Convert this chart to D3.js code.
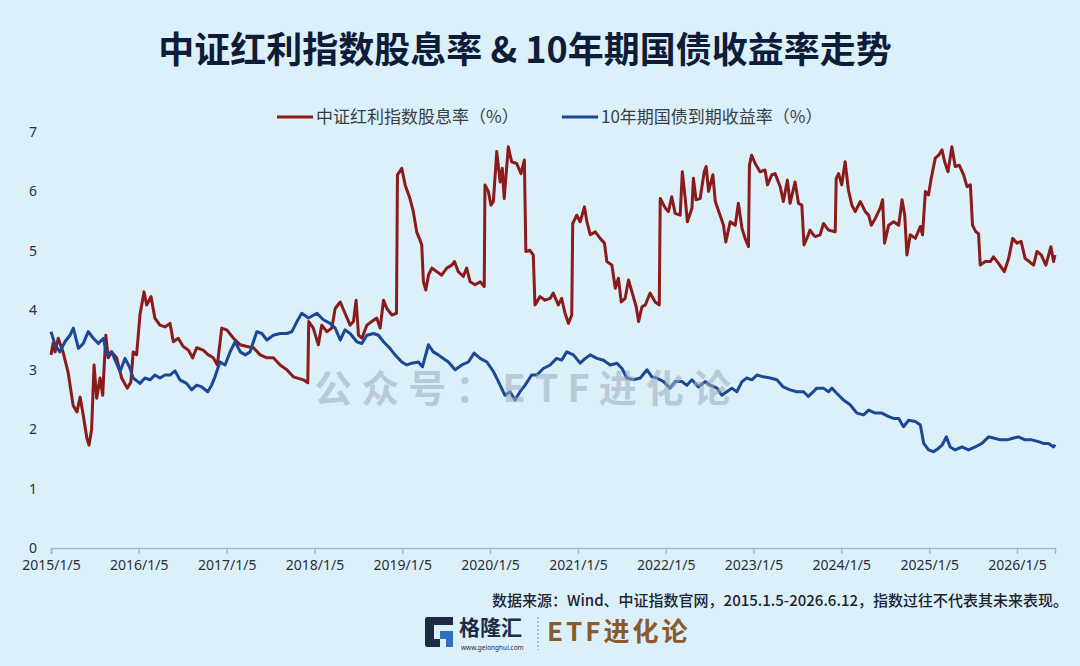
<!DOCTYPE html>
<html>
<head>
<meta charset="utf-8">
<script src="https://cdn.jsdelivr.net/npm/d3@7"></script>
<style>
  body { margin: 0; background: #dcf0fa; }
  svg { display: block; font-family: "Noto Sans CJK SC", "Noto Sans", sans-serif; }
</style>
</head>
<body>
<svg width="1080" height="666"></svg>
<script>
// Chart data
const titleText = "中证红利指数股息率 & 10年期国债收益率走势";
const seriesNames = ["中证红利指数股息率（%）", "10年期国债到期收益率（%）"];
const yTicks = [0, 1, 2, 3, 4, 5, 6, 7];
const xTickDates = ["2015-01-05", "2016-01-05", "2017-01-05", "2018-01-05", "2019-01-05", "2020-01-05",
  "2021-01-05", "2022-01-05", "2023-01-05", "2024-01-05", "2025-01-05", "2026-01-05"];
const dateRange = ["2015-01-05", "2026-06-12"];

// 中证红利指数股息率 (%)
const dividendYield = [
  ["2015-01-05", 3.25], ["2015-01-14", 3.45], ["2015-01-22", 3.3], ["2015-02-04", 3.53], ["2015-02-24", 3.3],
  ["2015-03-17", 2.96], ["2015-04-07", 2.4], ["2015-04-23", 2.29], ["2015-05-06", 2.54], ["2015-05-19", 2.24],
  ["2015-06-03", 1.85], ["2015-06-12", 1.73], ["2015-06-23", 2.0], ["2015-07-03", 3.08], ["2015-07-14", 2.52],
  ["2015-07-28", 2.86], ["2015-08-08", 2.57], ["2015-08-21", 3.58], ["2015-08-31", 3.2], ["2015-09-14", 3.3],
  ["2015-10-05", 3.2], ["2015-10-26", 2.86], ["2015-11-18", 2.69], ["2015-12-03", 2.79], ["2015-12-13", 3.3],
  ["2015-12-27", 3.25], ["2016-01-10", 3.92], ["2016-01-27", 4.31], ["2016-02-07", 4.09], ["2016-02-25", 4.23],
  ["2016-03-12", 3.87], ["2016-04-02", 3.75], ["2016-04-23", 3.72], ["2016-05-14", 3.78], ["2016-05-28", 3.47],
  ["2016-06-17", 3.53], ["2016-07-08", 3.39], ["2016-07-29", 3.33], ["2016-08-16", 3.2], ["2016-09-02", 3.37],
  ["2016-09-29", 3.33], ["2016-10-20", 3.25], ["2016-11-10", 3.2], ["2016-11-27", 3.08], ["2016-12-15", 3.7],
  ["2017-01-05", 3.67], ["2017-02-02", 3.53], ["2017-03-02", 3.42], ["2017-03-30", 3.39], ["2017-04-26", 3.37],
  ["2017-05-24", 3.25], ["2017-06-21", 3.2], ["2017-07-18", 3.2], ["2017-08-15", 3.08], ["2017-09-12", 3.0],
  ["2017-10-09", 2.88], ["2017-11-20", 2.83], ["2017-12-08", 2.78], ["2017-12-12", 3.81], ["2017-12-31", 3.7],
  ["2018-01-21", 3.42], ["2018-02-04", 3.75], ["2018-02-25", 3.64], ["2018-03-18", 3.7], ["2018-04-01", 4.03],
  ["2018-04-22", 4.14], ["2018-05-12", 3.95], ["2018-06-02", 3.75], ["2018-06-16", 3.81], ["2018-06-27", 4.17],
  ["2018-07-07", 3.58], ["2018-07-21", 3.53], ["2018-08-11", 3.75], ["2018-08-31", 3.81], ["2018-09-21", 3.87],
  ["2018-10-05", 3.7], ["2018-10-19", 4.17], ["2018-11-02", 4.03], ["2018-11-23", 3.92], ["2018-12-12", 3.95],
  ["2018-12-16", 6.28], ["2019-01-03", 6.39], ["2019-01-17", 6.11], ["2019-02-06", 5.88], ["2019-02-20", 5.66],
  ["2019-03-06", 5.32], ["2019-03-20", 5.18], ["2019-03-27", 5.1], ["2019-04-03", 4.48], ["2019-04-13", 4.34],
  ["2019-04-24", 4.59], ["2019-05-08", 4.71], ["2019-05-29", 4.65], ["2019-06-18", 4.59], ["2019-07-09", 4.71],
  ["2019-07-30", 4.76], ["2019-08-10", 4.82], ["2019-08-26", 4.65], ["2019-09-16", 4.57], ["2019-09-30", 4.71],
  ["2019-10-14", 4.48], ["2019-11-04", 4.43], ["2019-11-25", 4.48], ["2019-12-12", 4.4], ["2019-12-15", 6.11],
  ["2019-12-29", 6.0], ["2020-01-09", 5.77], ["2020-01-19", 5.83], ["2020-02-02", 6.67], ["2020-02-16", 6.16],
  ["2020-02-25", 6.39], ["2020-03-04", 5.88], ["2020-03-21", 6.75], ["2020-04-04", 6.5], ["2020-04-25", 6.47],
  ["2020-05-13", 6.3], ["2020-05-27", 6.53], ["2020-06-02", 4.99], ["2020-06-19", 5.01], ["2020-07-03", 4.93],
  ["2020-07-10", 4.09], ["2020-07-31", 4.23], ["2020-08-21", 4.17], ["2020-09-11", 4.2], ["2020-09-24", 4.29],
  ["2020-10-15", 4.09], ["2020-10-29", 4.2], ["2020-11-12", 3.95], ["2020-11-26", 3.78], ["2020-12-10", 3.92],
  ["2020-12-14", 5.46], ["2020-12-31", 5.6], ["2021-01-14", 5.49], ["2021-02-01", 5.74], ["2021-02-11", 5.49],
  ["2021-02-25", 5.27], ["2021-03-18", 5.32], ["2021-04-07", 5.21], ["2021-04-25", 5.13], ["2021-05-05", 4.82],
  ["2021-05-26", 4.76], ["2021-06-09", 4.37], ["2021-06-22", 4.54], ["2021-07-04", 4.14], ["2021-07-20", 4.2],
  ["2021-08-03", 4.51], ["2021-08-21", 4.26], ["2021-09-04", 4.06], ["2021-09-14", 3.81], ["2021-09-28", 4.06],
  ["2021-10-12", 4.09], ["2021-11-01", 4.29], ["2021-11-22", 4.14], ["2021-12-09", 4.09], ["2021-12-13", 5.88],
  ["2022-01-03", 5.72], ["2022-01-16", 5.66], ["2022-01-30", 5.91], ["2022-02-13", 5.63], ["2022-03-06", 5.6],
  ["2022-03-15", 6.33], ["2022-03-27", 5.88], ["2022-04-05", 5.49], ["2022-04-24", 5.72], ["2022-04-30", 6.22],
  ["2022-05-11", 5.86], ["2022-05-28", 5.88], ["2022-06-14", 6.33], ["2022-06-22", 6.42], ["2022-07-02", 6.0],
  ["2022-07-20", 6.28], ["2022-07-30", 5.83], ["2022-08-19", 5.6], ["2022-09-02", 5.43], ["2022-09-12", 5.15],
  ["2022-09-30", 5.49], ["2022-10-21", 5.43], ["2022-11-03", 5.8], ["2022-11-18", 5.38], ["2022-12-01", 5.21],
  ["2022-12-15", 5.07], ["2022-12-19", 6.44], ["2022-12-28", 6.61], ["2023-01-12", 6.47], ["2023-02-01", 6.33],
  ["2023-02-22", 6.36], ["2023-03-04", 6.11], ["2023-03-22", 6.28], ["2023-04-05", 6.3], ["2023-04-26", 6.08],
  ["2023-05-09", 5.83], ["2023-05-26", 6.19], ["2023-06-06", 5.8], ["2023-06-27", 6.16], ["2023-07-11", 5.8],
  ["2023-07-25", 5.77], ["2023-08-03", 5.1], ["2023-08-21", 5.27], ["2023-08-28", 5.35], ["2023-09-11", 5.27],
  ["2023-09-18", 5.24], ["2023-10-09", 5.27], ["2023-10-23", 5.46], ["2023-11-13", 5.35], ["2023-12-11", 5.32],
  ["2023-12-15", 6.22], ["2023-12-25", 6.3], ["2024-01-07", 6.11], ["2024-01-21", 6.5], ["2024-02-04", 6.02],
  ["2024-02-18", 5.77], ["2024-03-03", 5.66], ["2024-03-24", 5.83], ["2024-04-14", 5.66], ["2024-04-28", 5.6],
  ["2024-05-09", 5.43], ["2024-05-26", 5.55], ["2024-06-15", 5.72], ["2024-06-25", 5.86], ["2024-07-03", 5.13],
  ["2024-07-20", 5.43], ["2024-08-10", 5.49], ["2024-08-31", 5.43], ["2024-09-14", 5.86], ["2024-09-25", 5.6],
  ["2024-10-04", 4.93], ["2024-10-18", 5.27], ["2024-11-08", 5.21], ["2024-11-29", 5.41], ["2024-12-08", 5.27],
  ["2024-12-20", 6.0], ["2025-01-02", 5.94], ["2025-01-13", 6.22], ["2025-01-30", 6.56], ["2025-02-13", 6.61],
  ["2025-02-27", 6.7], ["2025-03-10", 6.5], ["2025-03-24", 6.33], ["2025-04-09", 6.75], ["2025-04-23", 6.42],
  ["2025-05-10", 6.44], ["2025-05-28", 6.28], ["2025-06-11", 6.08], ["2025-06-25", 6.11], ["2025-07-04", 5.43],
  ["2025-07-18", 5.32], ["2025-07-29", 5.29], ["2025-08-05", 4.76], ["2025-08-26", 4.82], ["2025-09-16", 4.82],
  ["2025-09-29", 4.9], ["2025-10-20", 4.79], ["2025-11-13", 4.65], ["2025-12-01", 4.87], ["2025-12-18", 5.21],
  ["2026-01-05", 5.13], ["2026-01-22", 5.16], ["2026-02-08", 4.87], ["2026-02-25", 4.82], ["2026-03-15", 4.76],
  ["2026-03-29", 4.99], ["2026-04-16", 4.93], ["2026-05-05", 4.76], ["2026-05-26", 5.07], ["2026-06-06", 4.82],
  ["2026-06-12", 4.93]
];

// 10年期国债到期收益率 (%)
const bondYield = [
  ["2015-01-05", 3.64], ["2015-01-22", 3.42], ["2015-02-11", 3.3], ["2015-03-04", 3.47], ["2015-03-25", 3.58],
  ["2015-04-08", 3.7], ["2015-04-29", 3.36], ["2015-05-19", 3.44], ["2015-06-09", 3.64], ["2015-06-30", 3.53],
  ["2015-07-21", 3.44], ["2015-08-11", 3.53], ["2015-08-25", 3.25], ["2015-09-14", 3.3], ["2015-10-02", 3.13],
  ["2015-10-19", 2.97], ["2015-11-09", 3.19], ["2015-11-27", 3.05], ["2015-12-13", 2.86], ["2016-01-10", 2.77],
  ["2016-01-31", 2.86], ["2016-02-21", 2.83], ["2016-03-12", 2.91], ["2016-04-02", 2.86], ["2016-04-23", 2.91],
  ["2016-05-14", 2.91], ["2016-06-04", 2.98], ["2016-06-24", 2.83], ["2016-07-22", 2.77], ["2016-08-12", 2.66],
  ["2016-09-02", 2.74], ["2016-09-23", 2.71], ["2016-10-18", 2.63], ["2016-11-03", 2.74], ["2016-11-17", 2.88],
  ["2016-12-08", 3.13], ["2016-12-29", 3.08], ["2017-01-19", 3.3], ["2017-02-09", 3.47], ["2017-03-02", 3.3],
  ["2017-03-23", 3.25], ["2017-04-12", 3.3], ["2017-04-26", 3.47], ["2017-05-10", 3.64], ["2017-05-31", 3.61],
  ["2017-06-21", 3.5], ["2017-07-18", 3.58], ["2017-08-15", 3.61], ["2017-09-12", 3.61], ["2017-10-03", 3.64],
  ["2017-10-24", 3.81], ["2017-11-13", 3.95], ["2017-12-11", 3.87], ["2018-01-15", 3.95], ["2018-02-11", 3.84],
  ["2018-03-11", 3.78], ["2018-04-01", 3.7], ["2018-04-22", 3.5], ["2018-05-12", 3.67], ["2018-06-02", 3.61],
  ["2018-06-30", 3.47], ["2018-07-21", 3.44], ["2018-08-11", 3.58], ["2018-09-07", 3.61], ["2018-09-28", 3.58],
  ["2018-10-19", 3.47], ["2018-11-15", 3.36], ["2018-12-06", 3.25], ["2019-01-03", 3.13], ["2019-01-24", 3.08],
  ["2019-02-14", 3.11], ["2019-03-13", 3.13], ["2019-03-30", 3.05], ["2019-04-24", 3.42], ["2019-05-14", 3.3],
  ["2019-06-04", 3.25], ["2019-06-25", 3.19], ["2019-07-16", 3.13], ["2019-08-13", 3.0], ["2019-09-10", 3.08],
  ["2019-10-07", 3.13], ["2019-10-31", 3.28], ["2019-11-25", 3.19], ["2019-12-23", 3.13], ["2020-01-19", 2.97],
  ["2020-02-09", 2.8], ["2020-03-07", 2.57], ["2020-03-28", 2.63], ["2020-04-18", 2.49], ["2020-05-09", 2.63],
  ["2020-05-30", 2.74], ["2020-06-26", 2.91], ["2020-07-17", 2.91], ["2020-08-14", 3.02], ["2020-09-11", 3.08],
  ["2020-10-08", 3.19], ["2020-10-29", 3.16], ["2020-11-19", 3.3], ["2020-12-17", 3.25], ["2021-01-14", 3.11],
  ["2021-02-04", 3.19], ["2021-02-25", 3.25], ["2021-03-25", 3.19], ["2021-04-21", 3.16], ["2021-05-19", 3.08],
  ["2021-06-16", 3.11], ["2021-07-07", 3.02], ["2021-07-27", 2.86], ["2021-08-24", 2.83], ["2021-09-21", 2.86],
  ["2021-10-19", 3.0], ["2021-11-08", 2.88], ["2021-11-29", 2.86], ["2021-12-27", 2.8], ["2022-01-23", 2.69],
  ["2022-02-13", 2.8], ["2022-03-13", 2.8], ["2022-04-03", 2.74], ["2022-04-24", 2.83], ["2022-05-21", 2.71],
  ["2022-06-18", 2.8], ["2022-07-09", 2.74], ["2022-08-06", 2.69], ["2022-08-26", 2.57], ["2022-09-16", 2.63],
  ["2022-10-07", 2.69], ["2022-10-28", 2.63], ["2022-11-18", 2.8], ["2022-12-08", 2.86], ["2022-12-29", 2.83],
  ["2023-01-19", 2.91], ["2023-02-15", 2.88], ["2023-03-15", 2.86], ["2023-04-12", 2.83], ["2023-05-09", 2.71],
  ["2023-06-06", 2.66], ["2023-07-04", 2.63], ["2023-08-01", 2.63], ["2023-08-21", 2.55], ["2023-09-11", 2.63],
  ["2023-09-25", 2.69], ["2023-10-23", 2.69], ["2023-11-13", 2.63], ["2023-11-27", 2.69], ["2023-12-18", 2.6],
  ["2024-01-14", 2.49], ["2024-02-11", 2.41], ["2024-03-10", 2.27], ["2024-04-07", 2.24], ["2024-04-28", 2.32],
  ["2024-05-26", 2.27], ["2024-06-22", 2.27], ["2024-07-20", 2.21], ["2024-08-10", 2.18], ["2024-08-31", 2.18],
  ["2024-09-20", 2.04], ["2024-10-11", 2.15], ["2024-11-08", 2.13], ["2024-11-29", 2.07], ["2024-12-13", 1.76],
  ["2025-01-02", 1.65], ["2025-01-23", 1.62], ["2025-02-13", 1.68], ["2025-02-27", 1.73], ["2025-03-17", 1.87],
  ["2025-04-02", 1.7], ["2025-04-23", 1.65], ["2025-05-21", 1.7], ["2025-06-17", 1.65], ["2025-07-15", 1.7],
  ["2025-08-12", 1.76], ["2025-09-09", 1.87], ["2025-09-29", 1.85], ["2025-10-27", 1.82], ["2025-11-24", 1.82],
  ["2025-12-22", 1.85], ["2026-01-11", 1.87], ["2026-02-08", 1.82], ["2026-03-08", 1.82], ["2026-04-04", 1.79],
  ["2026-04-25", 1.76], ["2026-05-16", 1.76], ["2026-06-06", 1.7], ["2026-06-12", 1.74]
];

const parseDate = d3.timeParse("%Y-%m-%d");
const colors = ["#8b1a1a", "#1b4795"];

const svg = d3.select("svg");

// Background
svg.append("rect").attr("width", 1080).attr("height", 666).attr("fill", "#dcf0fa");

// Title
svg.append("text")
  .attr("x", 525)
  .attr("y", 63)
  .attr("text-anchor", "middle")
  .style("font-size", "36px")
  .style("font-weight", "700")
  .style("fill", "#0f1c38")
  .text(titleText);

// Scales
const x = d3.scaleTime()
  .domain(dateRange.map(parseDate))
  .range([51, 1055]);

const y = d3.scaleLinear()
  .domain([0, 7])
  .range([548, 132]);

// X axis
const xAxis = svg.append("g")
  .attr("transform", "translate(0,548)")
  .call(
    d3.axisBottom(x)
      .tickValues(xTickDates.map(parseDate))
      .tickFormat(d3.timeFormat("%Y/%-m/%-d"))
      .tickSizeOuter(0)
      .tickSize(6)
      .tickPadding(6)
  );
xAxis.select(".domain").attr("stroke", "#a7b8c6").attr("stroke-width", 1.5);
xAxis.selectAll(".tick line").attr("stroke", "#a7b8c6").attr("stroke-width", 1.5);
xAxis.selectAll(".tick text")
  .style("font-size", "14px")
  .style("font-family", "'Noto Sans', sans-serif")
  .style("fill", "#2b2f38");

// Y axis (labels only)
const yAxis = svg.append("g")
  .attr("transform", "translate(37,0)")
  .call(d3.axisLeft(y).tickValues(yTicks).tickFormat(d3.format("d")).tickSize(0).tickPadding(0));
yAxis.select(".domain").remove();
yAxis.selectAll(".tick text")
  .style("font-size", "14px")
  .style("font-family", "'Noto Sans', sans-serif")
  .style("fill", "#2b2f38");

// Lines
const line = d3.line()
  .x((d) => x(parseDate(d[0])))
  .y((d) => y(d[1]));

[dividendYield, bondYield].forEach((series, i) => {
  svg.append("path")
    .datum(series)
    .attr("fill", "none")
    .attr("stroke", colors[i])
    .attr("stroke-width", 3)
    .attr("stroke-linejoin", "round")
    .attr("d", line);
});

// Watermark
svg.append("text")
  .attr("x", 527)
  .attr("y", 402)
  .attr("text-anchor", "middle")
  .style("font-size", "38px")
  .style("font-weight", "700")
  .style("letter-spacing", "9px")
  .style("fill", "#9eacb6")
  .style("opacity", 0.55)
  .text("公众号：ETF进化论");

// Legend
const legendItems = [
  { x: 277, label: seriesNames[0], color: colors[0] },
  { x: 562, label: seriesNames[1], color: colors[1] },
];
legendItems.forEach((item) => {
  svg.append("line")
    .attr("x1", item.x)
    .attr("x2", item.x + 36)
    .attr("y1", 117)
    .attr("y2", 117)
    .attr("stroke", item.color)
    .attr("stroke-width", 3);
  svg.append("text")
    .attr("x", item.x + 39)
    .attr("y", 123)
    .style("font-size", "17px")
    .style("fill", "#3a3d44")
    .text(item.label);
});

// Source note
svg.append("text")
  .attr("x", 1068)
  .attr("y", 606)
  .attr("text-anchor", "end")
  .style("font-size", "15px")
  .style("font-weight", "500")
  .style("fill", "#1e2330")
  .text("数据来源：Wind、中证指数官网，2015.1.5-2026.6.12，指数过往不代表其未来表现。");

// Logo
const logo = svg.append("g");
logo.append("path")
  .attr("d", "M425,619 Q425,617 427,617 L453,617 L453,625 L434,625 L434,639 L440,639 L440,647 L427,647 Q425,647 425,645 Z")
  .attr("fill", "#1d2a45");
logo.append("path")
  .attr("d", "M440,631 L453,631 L453,647 L446,647 L446,639 L440,639 Z")
  .attr("fill", "#2f6fc0");
logo.append("text")
  .attr("x", 459)
  .attr("y", 635)
  .style("font-size", "21px")
  .style("font-weight", "700")
  .style("fill", "#1d2a45")
  .text("格隆汇");
logo.append("text")
  .attr("x", 461)
  .attr("y", 650)
  .style("font-size", "6.5px")
  .style("font-family", "'Noto Sans', sans-serif")
  .style("fill", "#1d2a45")
  .text("www.gelonghui.com");
logo.append("line")
  .attr("x1", 538).attr("x2", 538)
  .attr("y1", 617).attr("y2", 650)
  .attr("stroke", "#8a8f99")
  .attr("stroke-dasharray", "2,2");
logo.append("text")
  .attr("x", 547)
  .attr("y", 641)
  .style("font-size", "26px")
  .style("font-weight", "700")
  .style("letter-spacing", "3px")
  .style("fill", "#8b5a2b")
  .text("ETF进化论");
</script>
</body>
</html>
